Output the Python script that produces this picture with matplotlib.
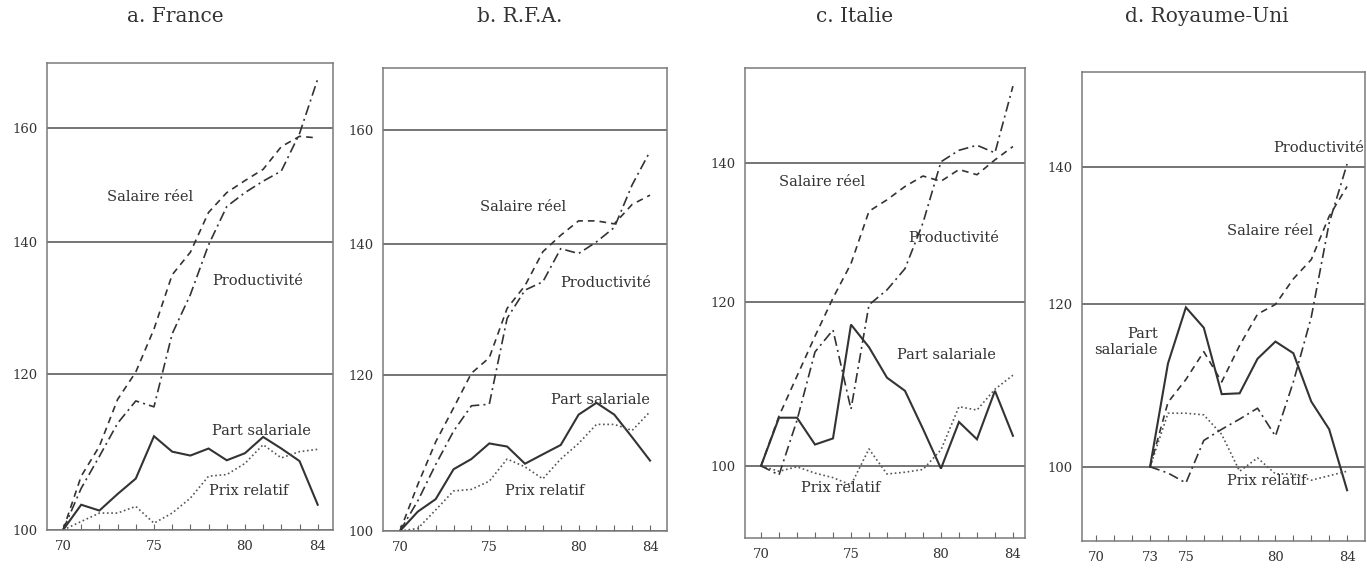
import matplotlib.pyplot as plt
from matplotlib.ticker import NullLocator

plt.rcParams['font.family'] = 'DejaVu Serif'

# years (19xx)
years = list(range(70, 85))
years_uk = list(range(73, 85))

# a. France
salaire_fr = [100, 106.5, 110.3, 116.5, 120.3, 126.5, 134.8, 138.4, 145, 148.4, 150.5, 152.5, 156.6, 158.5, 158.2]
productivite_fr = [100, 105, 109, 113.3, 116.3, 115.5, 125.8, 131.7, 139.6, 146, 148.4, 150.4, 152.2, 159, 169.5]
part_fr = [100, 103, 102.3, 104.3, 106.2, 111.6, 109.6, 109.1, 110, 108.5, 109.4, 111.5, 110, 108.4, 103]
prix_fr = [100, 101, 102, 102, 102.8, 100.8, 102, 103.8, 106.5, 106.7, 108.1, 110.5, 108.8, 109.6, 109.9]

# b. R.F.A.
salaire_rfa = [100, 105.6, 111, 115.5, 120.3, 122.5, 129.8, 133.3, 138.7, 141.4, 143.8, 143.8, 143.3, 146.6, 148.2]
productivite_rfa = [100, 103.6, 108.1, 112.4, 115.8, 116, 128.3, 132.6, 133.9, 139.2, 138.4, 140.3, 142.7, 150, 156]
part_rfa = [100, 102.3, 103.8, 107.5, 108.8, 110.8, 110.4, 108.2, 109.4, 110.6, 114.6, 116.2, 114.6, 111.6, 108.6]
prix_rfa = [100, 100.3, 102.5, 104.8, 105, 106, 108.8, 107.8, 106.3, 108.8, 110.8, 113.3, 113.3, 112.5, 115]

# c. Italie
salaire_it = [100, 105.7, 110.5, 115.5, 120.5, 125.2, 132.7, 134.4, 136.4, 138, 137.2, 139, 138.2, 140.5, 142.6]
productivite_it = [100, 99, 105.2, 113.5, 116.3, 106.5, 119.6, 121.6, 124.5, 131, 140.2, 142, 142.8, 141.6, 152.5]
part_it = [100, 105.5, 105.5, 102.4, 103.1, 117, 114.1, 110.3, 108.7, 104.2, 99.7, 105, 103, 108.7, 103.4]
prix_it = [100, 99.4, 99.9, 99.2, 98.7, 97.9, 101.9, 99.1, 99.3, 99.6, 101.8, 106.8, 106.4, 108.9, 110.6]

# d. Royaume-Uni (from 1973)
salaire_uk = [100, 107.5, 110.3, 113.8, 110, 114.6, 118.7, 120, 123.5, 126.2, 132.5, 137]
productivite_uk = [100, 99.3, 98.2, 103, 104.3, 105.5, 106.8, 103.5, 110, 118.3, 131.5, 140.5]
part_uk = [100, 112.3, 119.6, 116.9, 108.5, 108.6, 112.9, 115.1, 113.6, 107.6, 104.3, 97.4]
prix_uk = [100, 106.2, 106.2, 106, 103.7, 99.5, 101, 99.2, 99.2, 98.5, 99, 99.5]

titles = ['a. France', 'b. R.F.A.', 'c. Italie', 'd. Royaume-Uni']

W, H = 1367, 579
fig = plt.figure(figsize=(W / 100, H / 100), dpi=100)
fig.patch.set_facecolor('white')

ink = '#333333'


def rect(left, right, top, bottom):
    return [left / W, 1 - bottom / H, (right - left) / W, (bottom - top) / H]


def panel(box, xlim, ylim, grid, xticks, x, sal, prod, part, prix, labels):
    ax = fig.add_axes(rect(*box))
    ax.plot(x, part, color=ink, lw=1.5, solid_joinstyle='miter')
    ax.plot(x, prix, color='#555555', lw=1.2, dashes=(1, 1.6))
    ax.plot(x, sal, color=ink, lw=1.2, dashes=(4, 3))
    ax.plot(x, prod, color=ink, lw=1.2, dashes=(6, 2.5, 1.2, 2.5))
    ax.set_yscale('log')
    ax.set_ylim(*ylim)
    ax.set_xlim(*xlim)
    ax.set_yticks(grid, [str(g) for g in grid])
    ax.yaxis.set_minor_locator(NullLocator())
    ax.set_xticks(xticks, [str(t) for t in xticks])
    ax.set_xticks(range(70, 85), minor=True)
    for g in grid:
        ax.axhline(g, color='#6a6a6a', lw=1.3, zorder=0)
    ax.tick_params(axis='y', length=0, pad=7, labelsize=9.5, labelcolor=ink)
    ax.tick_params(axis='x', which='both', direction='in', length=4, width=0.8,
                   color='#666666', pad=7, labelsize=9.5, labelcolor=ink)
    for s in ax.spines.values():
        s.set_color('#7a7a7a')
        s.set_linewidth(1.1)
    for (lx, ly, txt, ha) in labels:
        ax.text(lx, ly, txt, fontsize=10.5, color=ink, ha=ha, va='center',
                multialignment='right')
    return ax


panel((47, 333, 63, 530), (69.12, 84.84), (100, 172.7), [100, 120, 140, 160],
      [70, 75, 80, 84], years, salaire_fr, productivite_fr, part_fr, prix_fr,
      [(74.8, 147.6, 'Salaire réel', 'center'),
       (80.7, 133.8, 'Productivité', 'center'),
       (80.9, 112.3, 'Part salariale', 'center'),
       (80.2, 104.7, 'Prix relatif', 'center')])

panel((383, 667, 68, 531), (69.05, 84.95), (100, 172), [100, 120, 140, 160],
      [70, 75, 80, 84], years, salaire_rfa, productivite_rfa, part_rfa, prix_rfa,
      [(76.9, 146.2, 'Salaire réel', 'center'),
       (81.5, 133.7, 'Productivité', 'center'),
       (81.2, 116.6, 'Part salariale', 'center'),
       (78.1, 104.8, 'Prix relatif', 'center')])

panel((745, 1025, 68, 538), (69.11, 84.67), (92.3, 155.6), [100, 120, 140],
      [70, 75, 80, 84], years, salaire_it, productivite_it, part_it, prix_it,
      [(73.4, 137.1, 'Salaire réel', 'center'),
       (80.7, 128.8, 'Productivité', 'center'),
       (80.3, 113.1, 'Part salariale', 'center'),
       (74.4, 97.6, 'Prix relatif', 'center')])

panel((1082, 1365, 72, 541), (69.2, 85.0), (92.0, 155.8), [100, 120, 140],
      [70, 73, 75, 80, 84], years_uk, salaire_uk, productivite_uk, part_uk, prix_uk,
      [(82.4, 143, 'Productivité', 'center'),
       (79.7, 130.3, 'Salaire réel', 'center'),
       (73.45, 115, 'Part\nsalariale', 'right'),
       (79.5, 98.4, 'Prix relatif', 'center')])

for tx, t in zip([175, 520, 855, 1207], titles):
    fig.text(tx / W, 1 - 16 / H, t, ha='center', va='center', fontsize=14.5, color=ink)

fig.savefig('out.png', dpi=100)
